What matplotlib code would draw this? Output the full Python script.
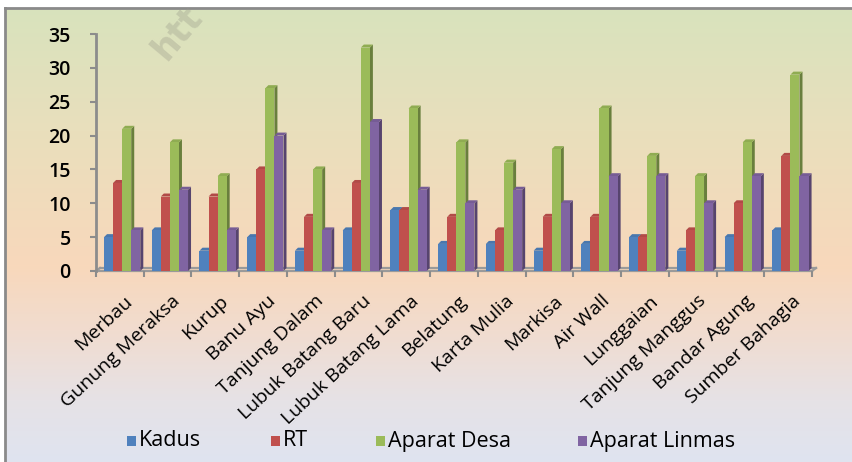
import matplotlib
matplotlib.use("Agg")
import matplotlib.pyplot as plt
import numpy as np
from matplotlib.patches import Polygon, Rectangle
from matplotlib.colors import to_rgb
from matplotlib.transforms import ScaledTranslation
from matplotlib.lines import Line2D

# ---------------- data ----------------
categories = ["Merbau", "Gunung Meraksa", "Kurup", "Banu Ayu", "Tanjung Dalam",
              "Lubuk Batang Baru", "Lubuk Batang Lama", "Belatung", "Karta Mulia",
              "Markisa", "Air Wall", "Lunggaian", "Tanjung Manggus", "Bandar Agung",
              "Sumber Bahagia"]
kadus = [5, 6, 3, 5, 3, 6, 9, 4, 4, 3, 4, 5, 3, 5, 6]
rt = [13, 11, 11, 15, 8, 13, 9, 8, 6, 8, 8, 5, 6, 10, 17]
aparat_desa = [21, 19, 14, 27, 15, 33, 24, 19, 16, 18, 24, 17, 14, 19, 29]
aparat_linmas = [6, 12, 6, 20, 6, 22, 12, 10, 12, 10, 14, 14, 10, 14, 14]
series_names = ["Kadus", "RT", "Aparat Desa", "Aparat Linmas"]
y_ticks = [0, 5, 10, 15, 20, 25, 30, 35]

series_values = [kadus, rt, aparat_desa, aparat_linmas]
colors = ["#4F81BD", "#C0504D", "#9BBB59", "#8064A2"]

W, H = 853, 462
fig = plt.figure(figsize=(W / 100, H / 100), dpi=100)

# ---------------- background gradient + frame ----------------
stops_y = [0, 130, 265, 330, 400, 462]
stops_c = ["#d7e3bc", "#e9dfbc", "#f8d8bb", "#f1dccf", "#e6e2e6", "#dfe4f0"]
rows = np.arange(H)
img = np.zeros((H, W, 3))
for ch in range(3):
    vals = [to_rgb(c)[ch] for c in stops_c]
    img[:, :, ch] = np.interp(rows, stops_y, vals)[:, None]
img[:8, :, :] = 1.0
img[:, :5, :] = 1.0
bg = fig.add_axes([0, 0, 1, 1], zorder=-10)
bg.imshow(img, aspect="auto", extent=[0, W, H, 0], interpolation="bilinear")
bg.plot([5, 5], [H, 8], color="#8a8a8a", lw=2)
bg.plot([5, W], [8, 8], color="#8a8a8a", lw=2)
bg.set_xlim(0, W)
bg.set_ylim(H, 0)
bg.axis("off")

# watermark (partially visible in the reference)
fig.text(166 / W, 1 - 62 / H, "htt", rotation=50, rotation_mode="anchor",
         ha="left", va="baseline", fontsize=25, fontweight="bold",
         family="DejaVu Sans", color="#9a9a8a", alpha=0.35)

# ---------------- main axes ----------------
ax_left, ax_right, ax_top, ax_bottom = 96, 812, 34, 271
ax = fig.add_axes([ax_left / W, 1 - ax_bottom / H, (ax_right - ax_left) / W,
                   (ax_bottom - ax_top) / H])
ax.set_xlim(0, len(categories))
ax.set_ylim(0, 35)
ax.patch.set_alpha(0)
for s in ["top", "right", "bottom"]:
    ax.spines[s].set_visible(False)
ax.spines["left"].set_color("#8c8c8c")
ax.spines["left"].set_linewidth(2)

px_x = len(categories) / (ax_right - ax_left)
px_y = 35 / (ax_bottom - ax_top)

# floor
fdx, fdy = 4 * px_x, 3 * px_y
n = len(categories)
for (xa, ya, xb, yb) in [(0, 0, n, 0), (fdx, fdy, n + fdx, fdy),
                         (0, 0, fdx, fdy), (n, 0, n + fdx, fdy)]:
    ax.add_line(Line2D([xa, xb], [ya, yb], color="#9a9a9a", lw=1.6,
                       clip_on=False, zorder=1))

# bars with pseudo-3D faces
bw = 0.19
off = 0.168
dxb, dyb = 3 * px_x, 3 * px_y


def shade(c, f):
    r, g, b = to_rgb(c)
    return (r * f, g * f, b * f)


for s, (vals, col) in enumerate(zip(series_values, colors)):
    x0s = np.arange(n) + off + s * bw
    z = 3 + s
    for x0, h in zip(x0s, vals):
        x1 = x0 + bw
        side = Polygon([(x1, 0), (x1 + dxb, dyb), (x1 + dxb, h + dyb), (x1, h)],
                       closed=True, facecolor=shade(col, 0.68), edgecolor="none",
                       zorder=z, clip_on=False)
        top = Polygon([(x0, h), (x1, h), (x1 + dxb, h + dyb), (x0 + dxb, h + dyb)],
                      closed=True, facecolor=shade(col, 0.92), edgecolor="none",
                      zorder=z, clip_on=False)
        ax.add_patch(side)
        ax.add_patch(top)
    ax.bar(x0s, vals, width=bw, align="edge", color=col, zorder=z + 0.5,
           edgecolor="none", clip_on=False)

# y axis ticks
ax.set_yticks(y_ticks)
ax.set_yticklabels([str(v) for v in y_ticks], fontsize=14, family="Open Sans",
                   fontweight="semibold")
ax.tick_params(axis="y", direction="out", length=4.3, width=1.5, color="#8c8c8c",
               pad=14)

# x ticks: minor = boundaries, major = labels
ax.set_xticks(np.arange(n + 1), minor=True)
ax.set_xticks(np.arange(n) + 0.5)
ax.set_xticklabels(categories, rotation=43, ha="right", va="top",
                   rotation_mode="anchor", fontsize=14, family="Open Sans")
ax.tick_params(axis="x", which="minor", direction="out", length=4.3, width=1.5,
               color="#8c8c8c")
ax.tick_params(axis="x", which="major", length=0, pad=15)
for lab in ax.get_xticklabels():
    lab.set_transform(lab.get_transform() + ScaledTranslation(4 / 100, 0, fig.dpi_scale_trans))

# ---------------- legend (manual) ----------------
leg_x = [127, 271, 376, 578]
leg_y = 441
for name, col, lx in zip(series_names, colors, leg_x):
    fig.patches.append(Rectangle(((lx) / W, 1 - (leg_y + 5) / H), 9 / W, 10 / H,
                                 transform=fig.transFigure, facecolor=col,
                                 edgecolor="none"))
    fig.text((lx + 12) / W, 1 - leg_y / H, name, ha="left", va="center",
             fontsize=15.5, family="Open Sans")

fig.savefig("out.png", dpi=100)
